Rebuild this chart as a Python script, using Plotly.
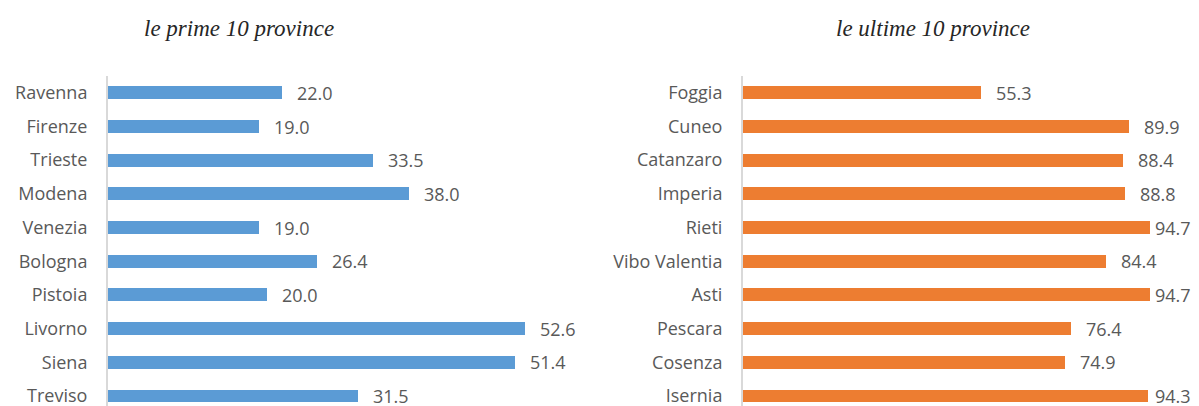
import plotly.graph_objects as go

# ---- data ----
top_provinces = ["Ravenna", "Firenze", "Trieste", "Modena", "Venezia",
                 "Bologna", "Pistoia", "Livorno", "Siena", "Treviso"]
top_values = [22.0, 19.0, 33.5, 38.0, 19.0, 26.4, 20.0, 52.6, 51.4, 31.5]

bottom_provinces = ["Foggia", "Cuneo", "Catanzaro", "Imperia", "Rieti",
                    "Vibo Valentia", "Asti", "Pescara", "Cosenza", "Isernia"]
bottom_values = [55.3, 89.9, 88.4, 88.8, 94.7, 84.4, 94.7, 76.4, 74.9, 94.3]

title_left = "le prime 10 province"
title_right = "le ultime 10 province"

W, H = 1199, 406
BLUE = "#5B9BD5"
ORANGE = "#ED7D31"
TXT = "#595959"
FONT = "Open Sans"
FS = 18

# plot area geometry (px)
L_X0, L_X1, L_MAX = 108, 583.5, 60
R_X0, R_X1, R_MAX = 743, 1172.8, 100

fig = go.Figure()

fig.add_trace(go.Bar(x=top_values, y=top_provinces, orientation="h",
                     marker=dict(color=BLUE, line=dict(width=0)), width=0.38,
                     xaxis="x", yaxis="y", hoverinfo="x+y"))
fig.add_trace(go.Bar(x=bottom_values, y=bottom_provinces, orientation="h",
                     marker=dict(color=ORANGE, line=dict(width=0)), width=0.38,
                     xaxis="x2", yaxis="y2", hoverinfo="x+y"))

# value labels
gap_px = 13
l_scale = (L_X1 - L_X0) / L_MAX
r_scale = (R_X1 - R_X0) / R_MAX
r_limit = (W - 46 - R_X0) / r_scale
for v, c in zip(top_values, top_provinces):
    fig.add_annotation(x=v + gap_px / l_scale, y=c, xref="x", yref="y",
                       text=f"{v:.1f}", showarrow=False, xanchor="left",
                       yanchor="middle", font=dict(family=FONT, size=FS, color=TXT))
for v, c in zip(bottom_values, bottom_provinces):
    fig.add_annotation(x=min(v + gap_px / r_scale, r_limit), y=c, xref="x2", yref="y2",
                       text=f"{v:.1f}", showarrow=False, xanchor="left",
                       yanchor="middle", font=dict(family=FONT, size=FS, color=TXT))

# titles
tfont = dict(family="Liberation Serif", size=23, color="#262626")
fig.add_annotation(x=238.5 / W, y=1 - 28 / H, xref="paper", yref="paper",
                   text=f"<i>{title_left}</i>", showarrow=False,
                   xanchor="center", yanchor="middle", font=tfont)
fig.add_annotation(x=933 / W, y=1 - 28 / H, xref="paper", yref="paper",
                   text=f"<i>{title_right}</i>", showarrow=False,
                   xanchor="center", yanchor="middle", font=tfont)

top_px = 76
bottom_idx = 9.30
yax_common = dict(type="category", range=[bottom_idx, -0.5], showgrid=False,
                  zeroline=False, showline=True, linecolor="#D9D9D9", linewidth=2,
                  ticks="", ticklabelstandoff=15,
                  tickfont=dict(family=FONT, size=FS, color=TXT),
                  domain=[0, 1 - top_px / H], fixedrange=True)
xax_common = dict(showgrid=False, zeroline=False, showline=False,
                  showticklabels=False, ticks="", fixedrange=True)

fig.update_layout(
    width=W, height=H,
    margin=dict(l=0, r=0, t=0, b=0),
    paper_bgcolor="white", plot_bgcolor="white",
    showlegend=False,
    bargap=0,
    xaxis=dict(xax_common, domain=[L_X0 / W, L_X1 / W], range=[0, L_MAX]),
    xaxis2=dict(xax_common, domain=[R_X0 / W, R_X1 / W], range=[0, R_MAX], anchor="y2"),
    yaxis=dict(yax_common, categoryorder="array", categoryarray=top_provinces, anchor="x"),
    yaxis2=dict(yax_common, categoryorder="array", categoryarray=bottom_provinces, anchor="x2"),
)

fig.write_html("out.html", config={"displayModeBar": False},
               post_script="document.body.style.margin='0';document.body.style.overflow='hidden';")
